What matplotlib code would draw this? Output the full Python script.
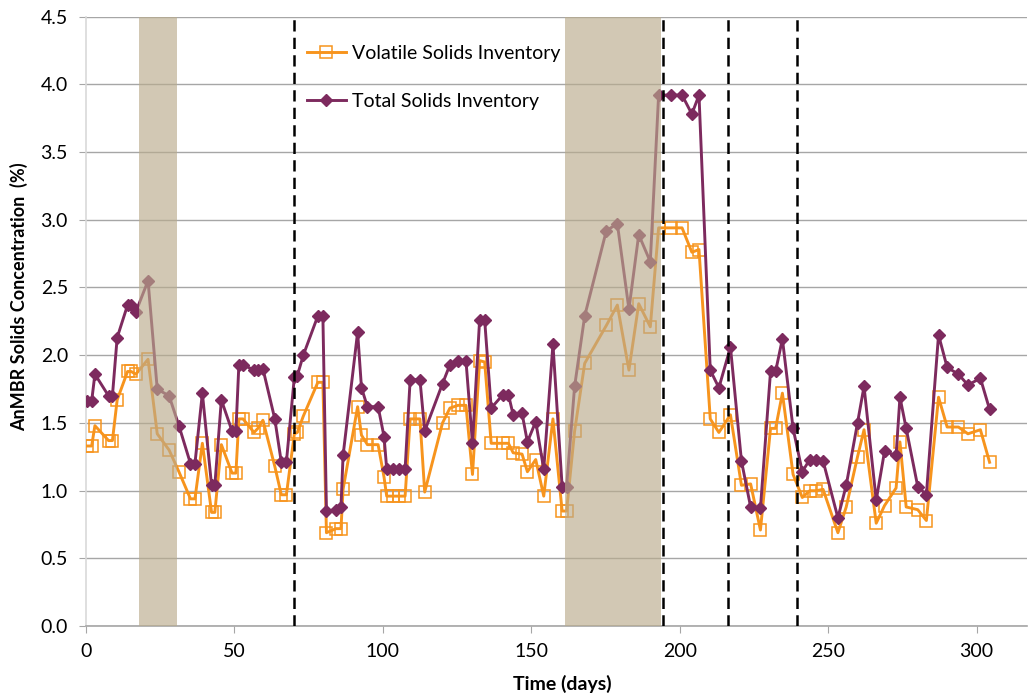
import matplotlib
matplotlib.use("Agg")
import matplotlib.pyplot as plt

plt.rcParams['font.family'] = ['Lato', 'DejaVu Sans']

days = [0.3, 1.9, 3.0, 7.6, 8.9, 10.5, 14.0, 15.2, 16.8, 20.9, 24.0, 28.0, 31.3, 35.2, 36.7,
        39.2, 42.3, 43.4, 45.6, 49.2, 50.5, 51.5, 52.9, 56.6, 57.9, 59.6, 63.6, 65.8, 67.5,
        70.2, 71.2, 73.2, 78.1, 79.8, 81.0, 84.2, 85.9, 86.6, 91.5, 92.8, 94.8, 98.4, 100.4,
        101.3, 103.5, 105.5, 107.5, 109.2, 112.5, 114.1, 120.1, 122.6, 125.3, 128.0, 130.2,
        132.6, 134.3, 136.5, 140.5, 142.3, 143.9, 146.9, 148.7, 151.5, 154.2, 157.3, 160.4,
        161.9, 164.6, 168.0, 175.3, 179.0, 182.9, 186.2, 190.1, 192.9, 197.2, 200.8, 204.1,
        206.5, 210.3, 213.2, 217.1, 220.8, 223.9, 227.2, 230.6, 232.3, 234.6, 238.2, 241.3,
        243.8, 246.0, 248.3, 253.3, 256.1, 259.9, 262.1, 266.2, 269.0, 272.9, 274.2, 276.3,
        280.2, 283.1, 287.2, 290.1, 293.9, 297.1, 301.3, 304.4]

total_solids = [1.66, 1.66, 1.86, 1.70, 1.70, 2.13, 2.37, 2.37, 2.32, 2.55, 1.75, 1.70, 1.48, 1.20, 1.20,
                1.72, 1.04, 1.04, 1.67, 1.44, 1.44, 1.93, 1.93, 1.89, 1.89, 1.90, 1.53, 1.21, 1.21,
                1.84, 1.85, 2.00, 2.29, 2.29, 0.85, 0.86, 0.88, 1.26, 2.17, 1.76, 1.62, 1.62, 1.40,
                1.16, 1.16, 1.16, 1.16, 1.82, 1.82, 1.44, 1.79, 1.93, 1.96, 1.96, 1.35,
                2.26, 2.26, 1.61, 1.71, 1.71, 1.56, 1.57, 1.36, 1.51, 1.16, 2.08, 1.03,
                1.03, 1.77, 2.29, 2.92, 2.97, 2.34, 2.89, 2.69, 3.92, 3.92, 3.92, 3.78,
                3.92, 1.89, 1.76, 2.06, 1.22, 0.88, 0.87, 1.88, 1.88, 2.12, 1.46, 1.14,
                1.23, 1.23, 1.22, 0.80, 1.04, 1.50, 1.77, 0.93, 1.29, 1.26, 1.69, 1.46,
                1.03, 0.97, 2.15, 1.91, 1.86, 1.78, 1.83, 1.60]

volatile_solids = [1.33, 1.33, 1.48, 1.37, 1.37, 1.67, 1.88, 1.88, 1.86, 1.97, 1.42, 1.30, 1.14, 0.94, 0.94,
                   1.35, 0.84, 0.84, 1.34, 1.13, 1.13, 1.53, 1.53, 1.43, 1.46, 1.52, 1.18, 0.97, 0.97,
                   1.42, 1.43, 1.55, 1.80, 1.80, 0.69, 0.72, 0.72, 1.01, 1.62, 1.41, 1.34, 1.34, 1.10,
                   0.96, 0.96, 0.96, 0.96, 1.53, 1.53, 0.99, 1.50, 1.61, 1.63, 1.63, 1.12,
                   1.96, 1.95, 1.35, 1.35, 1.35, 1.28, 1.27, 1.14, 1.23, 0.96, 1.53, 0.85,
                   0.85, 1.44, 1.94, 2.22, 2.37, 1.89, 2.38, 2.21, 2.94, 2.94, 2.94, 2.76,
                   2.78, 1.53, 1.43, 1.56, 1.04, 1.05, 0.71, 1.46, 1.46, 1.72, 1.12, 0.95,
                   1.00, 1.00, 1.01, 0.69, 0.88, 1.25, 1.45, 0.76, 0.89, 1.02, 1.36, 0.88,
                   0.86, 0.78, 1.69, 1.47, 1.47, 1.42, 1.45, 1.21]

shaded_periods = [(17.9, 30.5), (161.3, 193.8)]
phase_changes = [70.0, 194.4, 216.3, 239.5]

y_ticks = [0.0, 0.5, 1.0, 1.5, 2.0, 2.5, 3.0, 3.5, 4.0, 4.5]
x_ticks = [0, 50, 100, 150, 200, 250, 300]

purple = '#7D2A5E'
orange = '#F7941D'

fig = plt.figure(figsize=(10.29, 6.99), dpi=100)
ax = fig.add_axes([86/1029, 1 - 626.2/699, 941/1029, (626.2 - 16.5)/699])

ax.plot(days, volatile_solids, color=orange, lw=2.1, marker='s', ms=8,
        mfc='none', mec=orange, mew=1.1, zorder=3, label='Volatile Solids Inventory')
ax.plot(days, total_solids, color=purple, lw=2.1, marker='D', ms=6.5,
        mfc=purple, mec=purple, zorder=4, label='Total Solids Inventory')

for a, b in shaded_periods:
    ax.axvspan(a, b, color=(186/255, 171/255, 140/255), alpha=0.65, lw=0, zorder=5)

for xv in phase_changes:
    ax.axvline(xv, color='black', ls=(0, (4.5, 2.5)), lw=1.8, zorder=6)

ax.set_xlim(0, 317)
ax.set_ylim(0, 4.5)
ax.set_yticks(y_ticks)
ax.set_yticklabels([f'{v:.1f}' for v in y_ticks])
ax.set_xticks(x_ticks)
ax.grid(axis='y', color='#A6A6A6', lw=1.0)
for g in ax.get_ygridlines():
    g.set_zorder(5.5)

for s in ['top', 'right']:
    ax.spines[s].set_visible(False)
ax.spines['left'].set_color('#D9D9D9')
ax.spines['bottom'].set_color('#A6A6A6')
ax.spines['left'].set_linewidth(1.2)
ax.spines['bottom'].set_linewidth(1.2)
ax.tick_params(axis='both', colors='#A6A6A6', labelcolor='black', labelsize=14, length=5)
ax.tick_params(axis='y', pad=8)
ax.tick_params(axis='x', pad=7)

ax.set_xlabel('Time (days)', fontsize=14, fontweight='bold', va='top')
ax.xaxis.set_label_coords(0.506, -0.080)
ax.set_ylabel('AnMBR Solids Concentration  (%)', fontsize=13, fontweight='bold')
ax.yaxis.set_label_coords(-0.0616, 0.54)

leg = ax.legend(loc='upper left', bbox_to_anchor=(0.2163, 0.982), frameon=False,
                fontsize=14, labelspacing=1.6, handlelength=2.0, handletextpad=0.3)

fig.savefig('out.png', dpi=100)
